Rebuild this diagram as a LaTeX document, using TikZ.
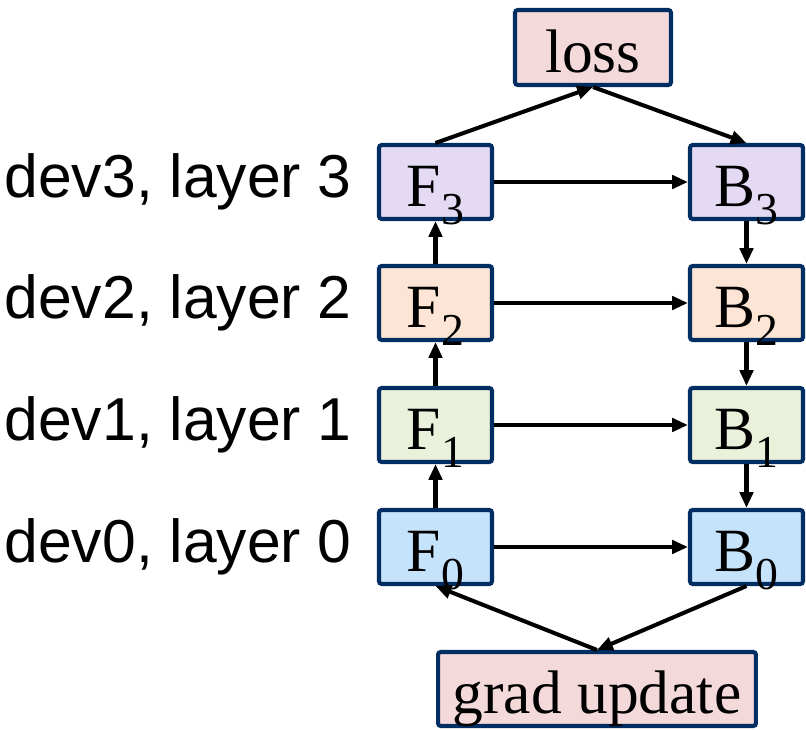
\documentclass[tikz,border=0pt]{standalone}
\usepackage{fontspec}
\setmainfont{Liberation Serif}
\setsansfont{Liberation Sans}
\usepackage{xcolor}
\usepackage{tikz}
\usetikzlibrary{arrows.meta}
\usetikzlibrary{positioning}

\definecolor{boxline}{RGB}{0,45,98}
\definecolor{lossfill}{RGB}{243,217,217}
\definecolor{lay3}{RGB}{228,218,243}
\definecolor{lay2}{RGB}{252,229,213}
\definecolor{lay1}{RGB}{233,241,219}
\definecolor{lay0}{RGB}{198,227,252}

\newcommand{\sub}[1]{\raisebox{-10pt}{\fontsize{26}{26}\selectfont #1}}

\tikzset{
    stage/.style={
        draw=boxline,
        line width=2.3pt,
        rounded corners=1.5pt,
        minimum width=2.26cm,
        minimum height=1.48cm,
        inner sep=0pt,
        text height=28pt,
        text depth=0pt,
        font=\fontsize{35}{35}\selectfont
    },
    devlabel/.style={
        anchor=east,
        inner sep=0pt,
        font=\sffamily\fontsize{34.5}{34.5}\selectfont
    },
    every edge/.style={
        draw,
        -{Triangle[length=9pt, width=7.5pt]},
        line width=2.3pt
    }
}

\begin{document}
\begin{tikzpicture}[x=0.02cm, y=-0.02cm]
    \useasboundingbox (0,0) rectangle (806,730);
    % Vertices - forward
    \node[stage, fill=lay3] (F3) at (435.5,182) {F\sub{3}};
    \node[stage, fill=lay2] (F2) at (435.5,303) {F\sub{2}};
    \node[stage, fill=lay1] (F1) at (435.5,425) {F\sub{1}};
    \node[stage, fill=lay0] (F0) at (435.5,547) {F\sub{0}};
    % Vertices - backward
    \node[stage, fill=lay3] (B3) at (746.5,182) {B\sub{3}};
    \node[stage, fill=lay2] (B2) at (746.5,303) {B\sub{2}};
    \node[stage, fill=lay1] (B1) at (746.5,425) {B\sub{1}};
    \node[stage, fill=lay0] (B0) at (746.5,547) {B\sub{0}};
    \node[stage, fill=lossfill, minimum width=3.12cm, minimum height=1.5cm] (loss) at (593,47.5) {loss};
    \node[stage, fill=lossfill, minimum width=6.36cm] (grad) at (597,689) {grad update};

    % Labels
    \node[devlabel] (d3) at (352,182) {dev3, layer 3};
    \node[devlabel] (d2) at (352,303) {dev2, layer 2};
    \node[devlabel] (d1) at (352,425) {dev1, layer 1};
    \node[devlabel] (d0) at (352,547) {dev0, layer 0};

    % Edges
    \draw (F0) edge (F1) (F1) edge (F2) (F2) edge (F3);
    \draw (B3) edge (B2) (B2) edge (B1) (B1) edge (B0);
    \draw (F3) edge (B3) (F2) edge (B2) (F1) edge (B1) (F0) edge (B0);
    \draw (F3.north) edge (loss.south);
    \draw (loss.south) edge (B3.north);
    \draw (B0.south) edge (grad.north);
    \draw (grad.north) edge (F0.south);
\end{tikzpicture}
\end{document}
